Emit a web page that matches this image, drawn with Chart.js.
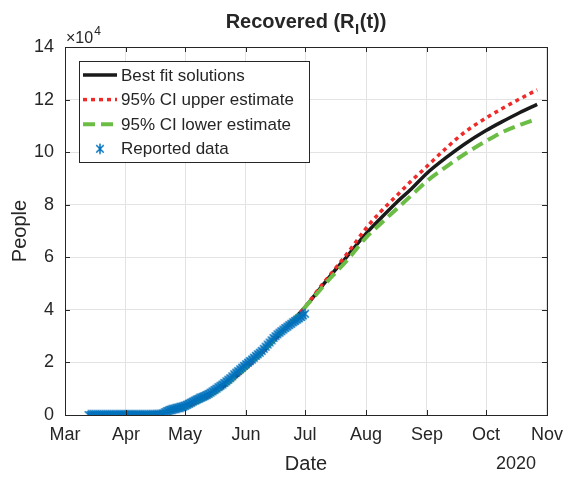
<!DOCTYPE html>
<html>
<head>
<meta charset="utf-8">
<script src="https://cdn.jsdelivr.net/npm/chart.js@4.4.1/dist/chart.umd.min.js"></script>
<style>
  html, body { margin: 0; padding: 0; background: #fff; }
  #wrap { width: 572px; height: 478px; }
</style>
</head>
<body>
<div id="wrap"><canvas id="recoveredChart" width="572" height="478"></canvas></div>
<script>
// x values are days counted from 1 March 2020
const monthStarts = [0, 31, 61, 92, 122, 153, 184, 214, 245];
const monthNames = ["Mar", "Apr", "May", "Jun", "Jul", "Aug", "Sep", "Oct", "Nov"];

// reported recovered counts, one per day from 13 March
const reportedStartDay = 12;
const reportedCounts = [
    0, 0, 0, 0, 0, 0, 0, 0, 0, 0,
    0, 0, 0, 0, 0, 0, 0, 0, 0, 0,
    0, 0, 0, 0, 0, 0, 0, 0, 0, 0,
    20, 30, 40, 60, 80, 100, 150, 200,
    600, 1100, 1500, 1800, 2000, 2200, 2400, 2600, 2800, 3000,
    3200, 3500, 3900, 4300, 4700, 5100, 5500, 5900, 6200, 6600,
    6900, 7200, 7600, 8000, 8500, 9000, 9500, 10000, 10600, 11100,
    11600, 12200, 12800, 13400, 14000, 14700, 15500, 16100, 16700, 17400,
    18000, 18700, 19300, 19900, 20500, 21100, 21800, 22500, 23100, 23700,
    24400, 25200, 26000, 26800, 27600, 28400, 29300, 30000, 30700, 31300,
    31900, 32500, 33100, 33600, 34200, 34700, 35300, 35800, 36300, 36800,
    37300, 37900, 38500
];

// model curves
const fitDays  = [12, 31, 45, 54, 61, 68, 74, 80, 86, 93, 101, 108, 115, 122, 129, 136, 143, 153, 160, 168, 176, 184, 193, 203, 214, 222, 231, 240];
const bestFit  = [0, 100, 600, 1500, 2900, 5200, 7600, 10500, 14000, 18500, 24300, 29800, 35300, 41000, 47500, 54000, 60000, 69000, 74500, 80500, 86000, 92000, 97500, 103000, 108200, 111500, 115000, 118200];
const upperFit = [0, 100, 600, 1500, 2900, 5200, 7600, 10500, 14000, 18500, 24300, 29800, 35300, 41000, 48000, 54500, 61000, 71000, 77000, 83000, 89000, 94600, 101000, 107500, 113000, 116500, 120200, 123700];
const lowerFit = [0, 100, 600, 1500, 2900, 5200, 7600, 10500, 14000, 18500, 24300, 29800, 35300, 41000, 47000, 53000, 58500, 67500, 72500, 78000, 83500, 89000, 94000, 99200, 104200, 107500, 110300, 112700];

const FONT = "'Liberation Sans', Arial, Helvetica, sans-serif";
const AXIS_COLOR = "#262626";

function toPoints(xs, ys) {
    return ys.map((y, i) => ({x: xs[i], y: y}));
}

// six-armed asterisk like the matlab '*' marker
function asteriskMarker(size, color) {
    const c = document.createElement("canvas");
    c.width = size;
    c.height = size;
    const g = c.getContext("2d");
    const m = size / 2, r = size / 2 - 0.7, d = r * Math.SQRT1_2;
    g.strokeStyle = color;
    g.lineWidth = 1.5;
    g.beginPath();
    g.moveTo(m, m - r); g.lineTo(m, m + r);
    g.moveTo(m - d, m - d); g.lineTo(m + d, m + d);
    g.moveTo(m - d, m + d); g.lineTo(m + d, m - d);
    g.stroke();
    return c;
}
const starImg = asteriskMarker(12, "#0072BD");

// box round the axes with inward ticks, plus title and exponent text
const axesBox = {
    id: "axesBox",
    afterDatasetsDraw(chart) {
        const {ctx, chartArea: a, scales} = chart;
        ctx.save();
        ctx.strokeStyle = AXIS_COLOR;
        ctx.lineWidth = 1;
        ctx.beginPath();
        scales.y.ticks.forEach(t => {
            const py = Math.round(scales.y.getPixelForValue(t.value)) + 0.5;
            ctx.moveTo(a.left, py); ctx.lineTo(a.left + 5, py);
            ctx.moveTo(a.right, py); ctx.lineTo(a.right - 5, py);
        });
        scales.x.ticks.forEach(t => {
            const px = Math.round(scales.x.getPixelForValue(t.value)) + 0.5;
            ctx.moveTo(px, a.bottom); ctx.lineTo(px, a.bottom - 5);
            ctx.moveTo(px, a.top); ctx.lineTo(px, a.top + 5);
        });
        ctx.stroke();
        ctx.strokeRect(Math.round(a.left) + 0.5, Math.round(a.top) + 0.5,
                       Math.round(a.right - a.left), Math.round(a.bottom - a.top));
        ctx.restore();
    },
    afterDraw(chart) {
        const {ctx, chartArea: a} = chart;
        ctx.save();
        ctx.fillStyle = AXIS_COLOR;
        ctx.textBaseline = "alphabetic";

        // title: Recovered (R_I(t))
        const big = "bold 20px " + FONT, small = "bold 15px " + FONT;
        ctx.font = big;
        const w1 = ctx.measureText("Recovered (R").width;
        const w3 = ctx.measureText("(t))").width;
        ctx.font = small;
        const w2 = ctx.measureText("I").width + 1;
        let tx = (a.left + a.right) / 2 - (w1 + w2 + w3) / 2;
        const ty = 28;
        ctx.textAlign = "left";
        ctx.font = big;
        ctx.fillText("Recovered (R", tx, ty);
        ctx.font = small;
        ctx.fillText("I", tx + w1 + 0.5, ty + 6);
        ctx.font = big;
        ctx.fillText("(t))", tx + w1 + w2, ty);

        // exponent over the y axis
        ctx.font = "16px " + FONT;
        const ex = a.left + 1;
        ctx.fillText("\u00d710", ex, 43);
        const ew = ctx.measureText("\u00d710").width;
        ctx.font = "12px " + FONT;
        ctx.fillText("4", ex + ew + 1, 35);

        // year under the last ticks
        ctx.font = "18px " + FONT;
        ctx.textAlign = "center";
        ctx.textBaseline = "middle";
        ctx.fillText("2020", 516, 464);
        ctx.restore();
    }
};

// legend drawn in the upper left corner of the axes
const boxLegend = {
    id: "boxLegend",
    afterDraw(chart) {
        const {ctx, chartArea: a} = chart;
        const x0 = Math.round(a.left) + 14, y0 = Math.round(a.top) + 14;
        const w = 230, h = 101, rowH = 24.6;
        ctx.save();
        ctx.fillStyle = "#fff";
        ctx.fillRect(x0, y0, w, h);
        ctx.strokeStyle = AXIS_COLOR;
        ctx.lineWidth = 1;
        ctx.strokeRect(x0 + 0.5, y0 + 0.5, w, h);
        ctx.font = "17px " + FONT;
        ctx.textBaseline = "middle";
        ctx.textAlign = "left";
        chart.data.datasets.forEach((ds, i) => {
            const cy = y0 + 14 + i * rowH;
            if (ds.showLine === false) {
                ctx.drawImage(starImg, x0 + 21 - starImg.width / 2, cy - starImg.height / 2);
            } else {
                ctx.strokeStyle = ds.borderColor;
                ctx.lineWidth = ds.borderWidth;
                ctx.setLineDash(ds.borderDash || []);
                ctx.beginPath();
                ctx.moveTo(x0 + 4, cy);
                ctx.lineTo(x0 + 38, cy);
                ctx.stroke();
                ctx.setLineDash([]);
            }
            ctx.fillStyle = AXIS_COLOR;
            ctx.fillText(ds.label, x0 + 42, cy + 1);
        });
        ctx.restore();
    }
};

const ctx = document.getElementById("recoveredChart").getContext("2d");
new Chart(ctx, {
    type: "line",
    data: {
        datasets: [
            {
                label: "Best fit solutions",
                data: toPoints(fitDays, bestFit),
                borderColor: "#1a1a1a",
                borderWidth: 3.5,
                pointRadius: 0,
                cubicInterpolationMode: "monotone",
                order: 3
            },
            {
                label: "95% CI upper estimate",
                data: toPoints(fitDays, upperFit),
                borderColor: "#ee2a2a",
                borderWidth: 3.5,
                borderDash: [4, 4],
                pointRadius: 0,
                cubicInterpolationMode: "monotone",
                order: 2
            },
            {
                label: "95% CI lower estimate",
                data: toPoints(fitDays, lowerFit),
                borderColor: "#6cbd45",
                borderWidth: 4,
                borderDash: [12, 6],
                pointRadius: 0,
                cubicInterpolationMode: "monotone",
                order: 1
            },
            {
                label: "Reported data",
                data: reportedCounts.map((v, i) => ({x: reportedStartDay + i, y: v})),
                showLine: false,
                borderColor: "#0072BD",
                backgroundColor: "#0072BD",
                pointStyle: starImg,
                pointRadius: 6,
                order: 0
            }
        ]
    },
    options: {
        responsive: false,
        animation: false,
        layout: { padding: { top: 47, right: 16, left: 0, bottom: 0 } },
        plugins: {
            legend: { display: false },
            tooltip: { enabled: false }
        },
        scales: {
            x: {
                type: "linear",
                min: 0,
                max: 245,
                afterBuildTicks: scale => {
                    scale.ticks = monthStarts.map(v => ({value: v}));
                },
                afterFit: scale => { scale.height = 63; },
                ticks: {
                    autoSkip: false,
                    maxRotation: 0,
                    padding: 9,
                    color: AXIS_COLOR,
                    font: { family: FONT, size: 18 },
                    callback: v => monthNames[monthStarts.indexOf(v)]
                },
                grid: { color: "#e3e3e3", drawTicks: false },
                border: { display: false },
                title: {
                    display: true,
                    text: "Date",
                    color: AXIS_COLOR,
                    font: { family: FONT, size: 20 },
                    padding: { top: 0, bottom: 2 }
                }
            },
            y: {
                min: 0,
                max: 140000,
                afterFit: scale => { scale.width = 65; },
                ticks: {
                    stepSize: 20000,
                    padding: 11,
                    color: AXIS_COLOR,
                    font: { family: FONT, size: 18 },
                    callback: v => v / 10000
                },
                grid: { color: "#e3e3e3", drawTicks: false },
                border: { display: false },
                title: {
                    display: true,
                    text: "People",
                    color: AXIS_COLOR,
                    font: { family: FONT, size: 20 },
                    padding: { top: 8, bottom: 0 }
                }
            }
        }
    },
    plugins: [axesBox, boxLegend]
});
</script>
</body>
</html>
